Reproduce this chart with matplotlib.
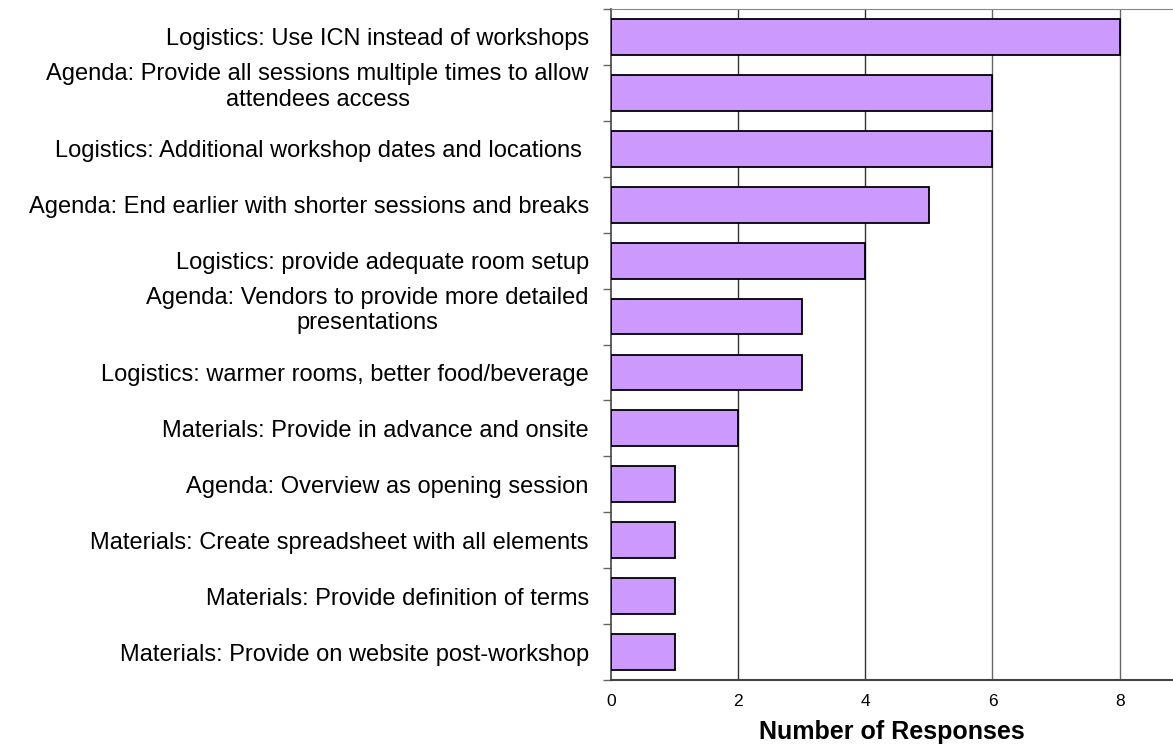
import matplotlib.pyplot as plt
import matplotlib.transforms as mtransforms
import numpy as np

plt.rcParams['font.family'] = ['Liberation Sans', 'DejaVu Sans']

# 数据（从上到下）
labels = [
    'Logistics: Use ICN instead of workshops',
    'Agenda: Provide all sessions multiple times to allow\nattendees access',
    'Logistics: Additional workshop dates and locations ',
    'Agenda: End earlier with shorter sessions and breaks',
    'Logistics: provide adequate room setup',
    'Agenda: Vendors to provide more detailed\npresentations',
    'Logistics: warmer rooms, better food/beverage',
    'Materials: Provide in advance and onsite',
    'Agenda: Overview as opening session',
    'Materials: Create spreadsheet with all elements',
    'Materials: Provide definition of terms',
    'Materials: Provide on website post-workshop',
]
responses = [8, 6, 6, 5, 4, 3, 3, 2, 1, 1, 1, 1]
xticks = [0, 2, 4, 6, 8]

fig = plt.figure(figsize=(11.73, 7.48), dpi=100)
ax = fig.add_axes([611 / 1173, 1 - 680 / 748, 1 - 611 / 1173, (680 - 9) / 748])

y = np.arange(len(labels))
ax.barh(y, responses, height=0.64, color='#CC99FF', edgecolor='black', linewidth=1.3, zorder=3)

ax.set_ylim(len(labels) - 0.5, -0.5)
ax.set_xlim(0, 8.84)

# 网格线
for xv in xticks[1:]:
    ax.axvline(xv, color='#333333' if xv < 6 else '#666666', linewidth=1, zorder=1)

ax.set_yticks(y)
ax.set_yticklabels(labels, fontsize=17, multialignment='center', linespacing=1.2)
ax.set_yticks(np.arange(-0.5, len(labels), 1), minor=True)
ax.tick_params(axis='y', which='major', length=0, pad=16)
ax.tick_params(axis='y', which='minor', length=6, width=1, color='#666666', direction='out')

# 两行标签略微上移（与原图一致）
for lab in ax.get_yticklabels():
    if '\n' in lab.get_text():
        lab.set_transform(lab.get_transform() + mtransforms.ScaledTranslation(0, 10 / 100, fig.dpi_scale_trans))

ax.set_xticks(xticks)
ax.tick_params(axis='x', length=0, pad=10, labelsize=12.5)
ax.set_xlabel('Number of Responses', fontsize=18, fontweight='bold', labelpad=8)

ax.spines['right'].set_visible(False)
ax.spines['top'].set_color('#888888')
ax.spines['left'].set_color('#444444')
ax.spines['bottom'].set_color('#444444')
ax.spines['bottom'].set_linewidth(1.5)
ax.spines['left'].set_linewidth(1.2)

plt.savefig('out.png', dpi=100)
plt.close()
